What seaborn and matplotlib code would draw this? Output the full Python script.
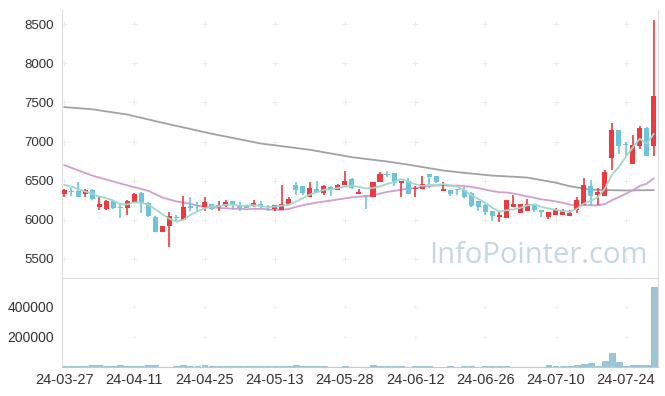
import matplotlib
matplotlib.use('Agg')
import matplotlib.pyplot as plt
import seaborn as sns
import pandas as pd
import numpy as np

# --- données (une bougie par séance) ---
opens = [6336, 6370, 6362, 6328, 6383, 6160, 6135, 6247, 6160, 6145,
         6234, 6343, 6217, 6030, 5839, 5916, 6031, 5992, 6171, 6192,
         6162, 6196, 6167, 6171, 6239, 6183, 6188, 6188, 6205, 6141,
         6137, 6120, 6201, 6447, 6434, 6298, 6392, 6349, 6417, 6375,
         6439, 6524, 6333, 6320, 6298, 6481, 6587, 6600, 6468, 6490,
         6392, 6400, 6587, 6562, 6362, 6383, 6383, 6383, 6341, 6235,
         6192, 6107, 6031, 6022, 6158, 6086, 6107, 6205, 6128, 6031,
         6056, 6060, 6044, 6120, 6188, 6435, 6311, 6299, 6796, 7148,
         6958, 6711, 6944, 7174, 6944]
highs = [6392, 6413, 6485, 6392, 6392, 6298, 6251, 6251, 6213, 6255,
         6345, 6357, 6225, 6043, 5924, 6103, 6064, 6307, 6290, 6226,
         6294, 6205, 6239, 6252, 6247, 6222, 6192, 6256, 6243, 6192,
         6192, 6447, 6290, 6481, 6434, 6481, 6494, 6439, 6426, 6460,
         6621, 6536, 6392, 6320, 6485, 6617, 6630, 6600, 6490, 6532,
         6434, 6566, 6587, 6562, 6477, 6383, 6395, 6418, 6350, 6240,
         6200, 6110, 6107, 6252, 6316, 6201, 6265, 6205, 6128, 6103,
         6154, 6141, 6128, 6286, 6528, 6503, 6413, 6638, 7234, 7148,
         6999, 7081, 7200, 7191, 8551]
lows = [6298, 6307, 6298, 6298, 6250, 6120, 6124, 6135, 6020, 6062,
        6225, 6090, 6035, 5839, 5839, 5655, 5985, 5992, 6115, 6103,
        6115, 6124, 6115, 6162, 6128, 6107, 6150, 6162, 6150, 6111,
        6107, 6120, 6196, 6320, 6315, 6298, 6350, 6320, 6300, 6375,
        6439, 6396, 6333, 6137, 6290, 6481, 6545, 6430, 6290, 6328,
        6298, 6392, 6405, 6470, 6362, 6310, 6316, 6285, 6160, 6107,
        6065, 5988, 5971, 6022, 6158, 6086, 6107, 6095, 6035, 6010,
        6056, 6060, 6044, 6086, 6188, 6192, 6192, 6299, 6638, 6842,
        6809, 6711, 6902, 6821, 6809]
closes = [6383, 6355, 6298, 6379, 6260, 6205, 6243, 6145, 6150, 6243,
          6332, 6213, 6043, 5839, 5924, 6052, 6022, 6162, 6150, 6171,
          6226, 6137, 6188, 6234, 6188, 6149, 6154, 6209, 6179, 6124,
          6184, 6205, 6264, 6383, 6349, 6405, 6354, 6430, 6396, 6451,
          6490, 6413, 6350, 6303, 6481, 6587, 6575, 6468, 6490, 6328,
          6413, 6460, 6541, 6477, 6396, 6332, 6375, 6298, 6171, 6158,
          6094, 6044, 6065, 6252, 6205, 6201, 6205, 6120, 6094, 6103,
          6128, 6112, 6090, 6252, 6447, 6307, 6350, 6613, 7148, 6949,
          6954, 6958, 7174, 6821, 7582]
volumes = [6000, 6000, 6000, 6000, 14000, 14000, 6000, 6000, 12000, 6000,
           6000, 6000, 12000, 12000, 3000, 3000, 6000, 12000, 6000, 6000,
           12000, 6000, 6000, 6000, 6000, 6000, 6000, 6000, 6000, 6000,
           6000, 6000, 6000, 10000, 6000, 6000, 6000, 6000, 1000, 1000,
           6000, 1000, 1000, 1000, 10000, 6000, 6000, 6000, 6000, 1000,
           6000, 6000, 6000, 1000, 1000, 6000, 1000, 6000, 6000, 1000,
           6000, 6000, 6000, 6000, 1000, 1000, 1000, 1000, 1000, 10000,
           6000, 6000, 6000, 13000, 20000, 27000, 7000, 40000, 95000, 35000,
           6000, 12000, 12000, 12000, 530000]

# 4 clôtures avant la fenêtre (pour la moyenne 5 jours)
prev_close = [6460, 6468, 6529, 6394]
# moyenne 20 jours au début de la fenêtre
ma20_early_idx = [0, 4, 9, 12, 14, 16, 18]
ma20_early = [6700, 6565, 6440, 6370, 6285, 6235, 6205]
# moyenne longue (gris)
ma_long_idx = [0, 4, 9, 14, 21, 28, 35, 41, 46, 49, 54, 57, 61, 66, 70, 72, 75, 80, 84]
ma_long = [7440, 7412, 7345, 7240, 7100, 6975, 6895, 6800, 6745, 6705,
           6630, 6600, 6565, 6540, 6475, 6430, 6385, 6375, 6380]

tick_labels = ['24-03-27', '24-04-11', '24-04-25', '24-05-13', '24-05-28',
               '24-06-12', '24-06-26', '24-07-10', '24-07-24']

RED = '#ee3a3e'
BLUE = '#6ec4dc'

sns.set_theme(style='white')
plt.rcParams['font.family'] = ['Liberation Sans', 'DejaVu Sans']

df = pd.DataFrame({'open': opens, 'high': highs, 'low': lows,
                   'close': closes, 'volume': volumes})
df['idx'] = np.arange(len(df))
up = df['close'] >= df['open']
cols = np.where(up, RED, BLUE)

# moyennes mobiles
all_close = pd.Series(prev_close + closes)
ma5 = all_close.rolling(5).mean().iloc[len(prev_close):].reset_index(drop=True)
ma20_calc = df['close'].rolling(20).mean()
ma20_x = ma20_early_idx + list(df['idx'][19:])
ma20_y = ma20_early + list(ma20_calc[19:])

fig = plt.figure(figsize=(6.65, 3.96), dpi=100)
ax = fig.add_axes([62 / 665, 1 - 277 / 396, 596 / 665, 267 / 396])
ax2 = fig.add_axes([62 / 665, 1 - 367 / 396, 596 / 665, 89 / 396])

# bougies
ax.vlines(df['idx'], df['low'], df['high'], colors=cols, lw=1.2, zorder=3)
body_h = (df['close'] - df['open']).abs().clip(lower=14)
body_b = df[['open', 'close']].min(axis=1)
ax.bar(df['idx'], body_h, bottom=body_b, width=0.72, color=cols, lw=0, zorder=4)

sns.lineplot(x=ma_long_idx, y=ma_long, ax=ax, color='#a2a2a2', lw=1.3, zorder=2)
sns.lineplot(x=ma20_x, y=ma20_y, ax=ax, color='#d29dd2', lw=1.3, zorder=2)
sns.lineplot(x=df['idx'], y=ma5, ax=ax, color='#9fd9cd', lw=1.3, zorder=5)

# filigrane
ax.text(0.80, 0.08, 'InfoPointer.com', transform=ax.transAxes, ha='center',
        va='center', fontsize=21, color='#c5d7e0', zorder=1,
        family=['Open Sans', 'DejaVu Sans'])

# volume
sns.barplot(x=df['idx'], y=df['volume'], ax=ax2, native_scale=True,
            color='#9cc5d6', saturation=1, width=0.85,
            edgecolor='#86b2c4', linewidth=0.5)

xticks = list(range(0, 90, 10))
yticks = [5500, 6000, 6500, 7000, 7500, 8000, 8500]
vticks = [200000, 400000]

# petits "+" aux intersections de la grille
gx, gy = np.meshgrid(xticks, yticks)
ax.scatter(gx.ravel(), gy.ravel(), marker='+', s=14, color='#ededed', lw=0.7, zorder=0)
gx2, gy2 = np.meshgrid(xticks[1:], vticks)
ax2.scatter(gx2.ravel(), gy2.ravel(), marker='+', s=10, color='#efefef', lw=0.6, zorder=0)

for a in (ax, ax2):
    a.set_xlim(-0.3, 84.6)
    a.set_xlabel('')
    a.set_ylabel('')
    for s in a.spines.values():
        s.set_color('#dcdcdc')
        s.set_linewidth(0.8)

ax.spines['top'].set_visible(False)
ax.spines['bottom'].set_visible(False)
ax.set_ylim(5270, 8680)
ax.set_yticks(yticks)
ax.set_yticklabels([str(v) for v in yticks])
ax.set_xticks([])
ax.tick_params(axis='y', length=3, color='#d0d0d0', labelsize=9.5,
               labelcolor='#333333', pad=3)

ax2.set_ylim(0, 590000)
ax2.set_yticks(vticks)
ax2.set_yticklabels([str(v) for v in vticks])
ax2.set_xticks(xticks)
ax2.set_xticklabels(tick_labels)
ax2.spines['bottom'].set_color('#c8c8c8')
ax2.tick_params(axis='y', length=3, color='#d0d0d0', labelsize=10,
                labelcolor='#333333', pad=3)
ax2.tick_params(axis='x', length=0, labelsize=10.5, labelcolor='#333333', pad=4)

fig.savefig('out.png', dpi=100)
